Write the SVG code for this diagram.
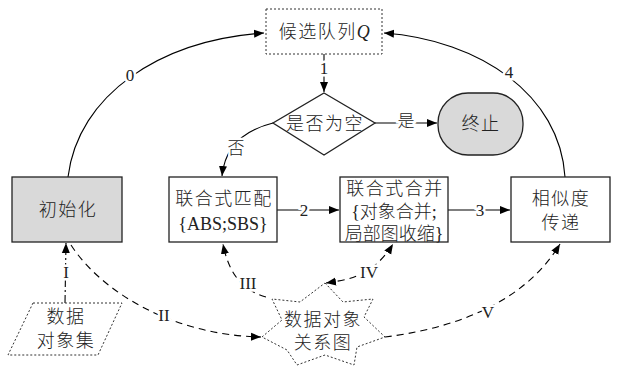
<svg xmlns="http://www.w3.org/2000/svg" width="620" height="367" viewBox="0 0 620 367">
<defs>
<marker id="ah" viewBox="0 0 10 10" refX="10" refY="5" markerWidth="10" markerHeight="10" markerUnits="userSpaceOnUse" orient="auto-start-reverse">
<path d="M0,1 L10,5 L0,9 Z" fill="#000"/>
</marker>
</defs>
<style>
text{font-family:"Liberation Serif","Noto Sans CJK SC",serif;fill:#222;text-anchor:middle;dominant-baseline:central}
.t{font-size:18px;font-weight:300;letter-spacing:1.5px}
.m{font-size:18px;font-weight:300;letter-spacing:0}
.e{font-size:18px;letter-spacing:0}
.l{font-size:17px;paint-order:stroke;stroke:#fff;stroke-width:5px;font-weight:300}
.box{fill:#fff;stroke:#222;stroke-width:1.3}
.gray{fill:#d9d9d9;stroke:#222;stroke-width:1.3}
.dot{fill:#fff;stroke:#333;stroke-width:1;stroke-dasharray:2,2}
.c{fill:none;stroke:#000;stroke-width:1.1}
.d{fill:none;stroke:#000;stroke-width:1.1;stroke-dasharray:7,5}
.dd{fill:none;stroke:#000;stroke-width:1.1;stroke-dasharray:8,3,2,3}
</style>
<g id="connectors">
<path class="c" d="M68,177 C78,95 160,40 264,33" marker-end="url(#ah)"/>
<text class="l" x="130" y="75">0</text>
<path class="c" d="M565,177 C560,95 480,40 384,33" marker-end="url(#ah)"/>
<text class="l" x="509" y="72">4</text>
<path class="c" d="M324,54 L324,92" marker-end="url(#ah)"/>
<text class="l" x="324" y="68">1</text>
<path class="c" d="M375,123 L437,123" marker-end="url(#ah)"/>
<text class="l" x="406" y="121">是</text>
<path class="c" d="M273,123 C245,130 225,145 222,176" marker-end="url(#ah)"/>
<text class="l" x="236" y="148">否</text>
<path class="c" d="M277,210 L339,210" marker-end="url(#ah)"/>
<text class="l" x="304" y="210">2</text>
<path class="c" d="M448,210 L510,210" marker-end="url(#ah)"/>
<text class="l" x="480" y="210">3</text>
<path class="dd" d="M65,303 L66,243" marker-end="url(#ah)"/>
<text class="l" x="66" y="272">I</text>
<path class="d" d="M71,245 C100,290 170,335 261,337" marker-end="url(#ah)"/>
<text class="l" x="164" y="315">II</text>
<path class="d" d="M266,297 C240,290 228,270 223,244" marker-end="url(#ah)"/>
<text class="l" x="248" y="283">III</text>
<path class="d" d="M326,283 C345,280 372,278 393,244" marker-start="url(#ah)" marker-end="url(#ah)"/>
<text class="l" x="369" y="272">IV</text>
<path class="d" d="M385,337 C440,330 520,310 560,244" marker-end="url(#ah)"/>
<text class="l" x="488" y="312">V</text>
</g>
<g id="queue">
<rect class="dot" x="266" y="9" width="116" height="45"/>
<text class="t" x="325" y="32">候选队列<tspan font-style="italic" font-weight="400">Q</tspan></text>
</g>
<g id="decision">
<polygon class="box" points="324,93 375,123 324,155 273,123"/>
<text class="t" x="325" y="124">是否为空</text>
</g>
<g id="terminate">
<rect class="gray" x="438" y="93" width="85" height="62" rx="30" ry="30"/>
<text class="t" x="481" y="124">终止</text>
</g>
<g id="init">
<rect class="gray" x="12" y="177" width="110" height="65"/>
<text class="t" x="68" y="210">初始化</text>
</g>
<g id="match">
<rect class="box" x="169" y="177" width="108" height="65"/>
<text class="t" x="224" y="199">联合式匹配</text>
<text class="e" x="223" y="224">{ABS;SBS}</text>
</g>
<g id="merge">
<rect class="box" x="340" y="177" width="108" height="65"/>
<text class="t" x="395" y="189">联合式合并</text>
<text class="m" x="394" y="212">{对象合并;</text>
<text class="m" x="394" y="234">局部图收缩}</text>
</g>
<g id="propagate">
<rect class="box" x="511" y="177" width="99" height="65"/>
<text class="t" x="561" y="199">相似度</text>
<text class="t" x="561" y="223">传递</text>
</g>
<g id="dataset">
<polygon class="dot" points="33,303 122,303 98,355 8,355"/>
<text class="t" x="66" y="317">数据</text>
<text class="t" x="66" y="341">对象集</text>
</g>
<g id="graph">
<polygon class="dot" points="325,283 343,302 373,299 364,317 385,337 357,347 354,365 325,355 297,365 287,350 262,337 282,320 272,299 300,302"/>
<text class="t" x="323" y="320">数据对象</text>
<text class="t" x="323" y="343">关系图</text>
</g>
</svg>
